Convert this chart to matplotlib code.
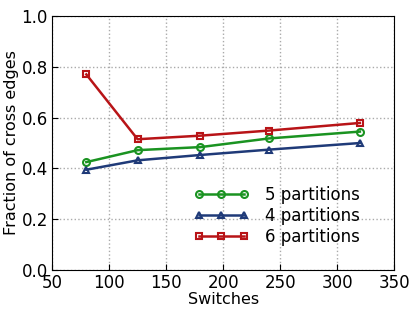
import matplotlib
matplotlib.use("Agg")
import matplotlib.pyplot as plt

# Data
switches = [80, 125, 180, 240, 320]
part5 = [0.425, 0.472, 0.484, 0.518, 0.545]
part4 = [0.395, 0.432, 0.453, 0.474, 0.500]
part6 = [0.770, 0.515, 0.529, 0.549, 0.579]

fig = plt.figure(figsize=(4.17, 3.13), dpi=100)
ax = fig.add_axes([0.125, 0.137, 0.82, 0.812])

ax.plot(switches, part5, color="#1a9321", marker="o", ms=5, mfc="none", mew=1.5,
        lw=1.8, label="5 partitions")
ax.plot(switches, part4, color="#1f3a78", marker="^", ms=5, mfc="none", mew=1.5,
        lw=1.8, label="4 partitions")
ax.plot(switches, part6, color="#b81417", marker="s", ms=5, mfc="none", mew=1.5,
        lw=1.8, label="6 partitions")

ax.set_xlim(50, 350)
ax.set_ylim(0, 1.0)
ax.set_xticks([50, 100, 150, 200, 250, 300, 350])
ax.set_yticks([0.0, 0.2, 0.4, 0.6, 0.8, 1.0])
ax.set_yticklabels(["0.0", "0.2", "0.4", "0.6", "0.8", "1.0"])
ax.tick_params(labelsize=12, direction="in", length=4, pad=3)
ax.grid(True, linestyle=":", color="#aaaaaa", linewidth=1)
ax.set_xlabel("Switches", fontsize=11.5, labelpad=0)
ax.set_ylabel("Fraction of cross edges", fontsize=11.5, labelpad=2)

ax.legend(loc="lower right", frameon=False, numpoints=3, fontsize=12,
          handlelength=3.3, handletextpad=1.0, labelspacing=0.2,
          bbox_to_anchor=(0.945, 0.035))

fig.savefig("out.png", dpi=100)
